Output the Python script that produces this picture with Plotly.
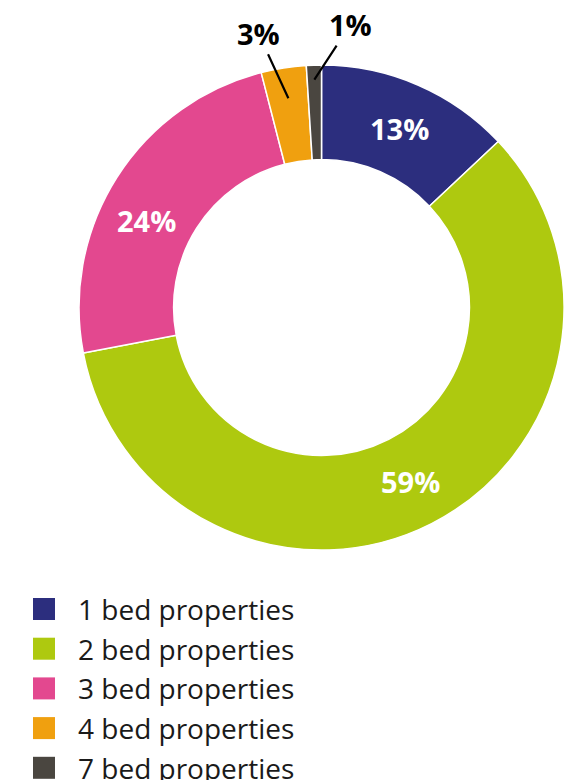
import math
import plotly.graph_objects as go

categories = ["1 bed properties", "2 bed properties", "3 bed properties",
              "4 bed properties", "7 bed properties"]
values = [13, 59, 24, 3, 1]
colors = ["#2c2e7e", "#aec90f", "#e3488f", "#f0a00f", "#4a4640"]
inside = [True, True, True, False, False]
# inside labels: angle nudge (degrees) from slice middle
inside_nudge = {0: 0, 1: 0, 2: -6}
# outside labels: (radius fraction of leader start, dx px, dy px of label)
label_layout = {3: (0.874, -30, -65), 4: (0.94, 36, -55)}

W, H = 576, 780
FONT = "Open Sans"

dom_x = [0.1233, 0.9653]
dom_y = [0.3051, 0.9269]
HOLE = 0.61

fig = go.Figure(go.Pie(
    labels=categories, values=values, textinfo="none",
    sort=False, direction="clockwise", rotation=0, hole=HOLE,
    marker=dict(colors=colors, line=dict(color="white", width=1.5)),
    domain=dict(x=dom_x, y=dom_y), showlegend=False, hoverinfo="label+percent",
))

cx = (dom_x[0] + dom_x[1]) / 2
cy = (dom_y[0] + dom_y[1]) / 2
R = min((dom_x[1] - dom_x[0]) * W, (dom_y[1] - dom_y[0]) * H) / 2
total = sum(values)
cum = 0
annotations = []
for i, v in enumerate(values):
    mid = (cum + v / 2) / total * 2 * math.pi
    cum += v
    if inside[i]:
        ang = mid + math.radians(inside_nudge[i])
        r = R * (1 + HOLE) / 2
        annotations.append(dict(
            x=cx + r * math.sin(ang) / W, y=cy + r * math.cos(ang) / H,
            xref="paper", yref="paper", text=f"{v}%", showarrow=False,
            xanchor="center", yanchor="middle",
            font=dict(family=FONT, size=29, color="white", weight="bold"),
        ))
        continue
    frac, ax, ay = label_layout[i]
    r = R * frac
    px = cx + r * math.sin(mid) / W
    py = cy + r * math.cos(mid) / H
    annotations.append(dict(
        x=px, y=py, xref="paper", yref="paper", text=f"{v}%",
        showarrow=True, arrowhead=0, arrowwidth=2.2, arrowcolor="black",
        ax=ax, ay=ay, font=dict(family=FONT, size=29, color="black", weight="bold"),
    ))

# legend rows
shapes = []
row0, step = 601, 39.7
for i, (c, col) in enumerate(zip(categories, colors)):
    yc = 1 - (row0 + i * step) / H
    shapes.append(dict(type="rect", xref="paper", yref="paper",
                       x0=25 / W, x1=47 / W, y0=yc - 11 / H, y1=yc + 11 / H,
                       fillcolor=col, line=dict(width=0)))
    annotations.append(dict(x=68 / W, y=yc, xref="paper", yref="paper",
                            text=c, showarrow=False, xanchor="left", yanchor="middle",
                            font=dict(family=FONT, size=28, color="#1a1a1a")))

fig.update_layout(
    width=W, height=H, margin=dict(l=0, r=0, t=0, b=0),
    paper_bgcolor="white", plot_bgcolor="white",
    shapes=shapes, annotations=annotations,
)
fig.write_html("out.html")
